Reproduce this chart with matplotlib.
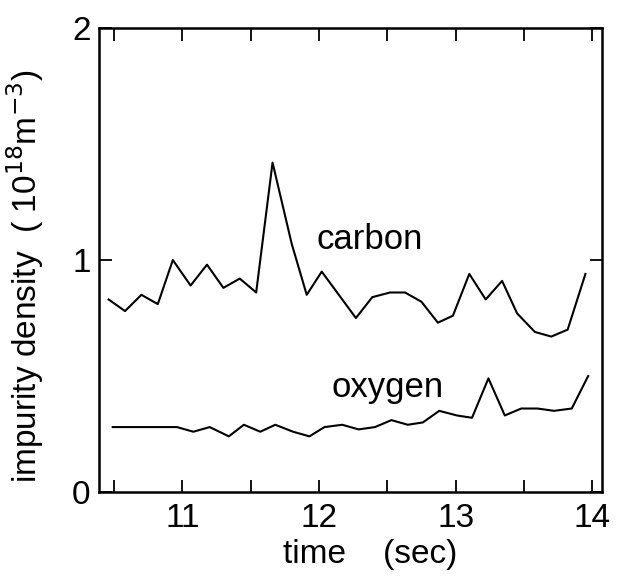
import matplotlib
matplotlib.use("Agg")
from matplotlib import pyplot as plt
from matplotlib.ticker import MultipleLocator
import numpy as np

plt.rcParams['font.family'] = ['Liberation Sans', 'DejaVu Sans']

# carbon (10^18 m^-3)
carbon_t = [10.46, 10.58, 10.70, 10.82, 10.93, 11.06, 11.18, 11.30, 11.42, 11.54,
            11.66, 11.80, 11.91, 12.02, 12.27, 12.39, 12.52, 12.63, 12.75, 12.87,
            12.98, 13.10, 13.22, 13.34, 13.45, 13.58, 13.70, 13.82, 13.95]
carbon_n = [0.83, 0.78, 0.85, 0.81, 1.00, 0.89, 0.98, 0.88, 0.92, 0.86,
            1.42, 1.07, 0.85, 0.95, 0.75, 0.84, 0.86, 0.86, 0.82, 0.73,
            0.76, 0.94, 0.83, 0.91, 0.77, 0.69, 0.67, 0.70, 0.94]

# oxygen
oxygen_t = [10.49, 10.60, 10.72, 10.84, 10.96, 11.08, 11.20, 11.34, 11.45, 11.57,
            11.68, 11.81, 11.93, 12.04, 12.17, 12.29, 12.41, 12.53, 12.65, 12.76,
            12.88, 13.01, 13.12, 13.24, 13.36, 13.48, 13.60, 13.72, 13.85, 13.97]
oxygen_n = [0.28, 0.28, 0.28, 0.28, 0.28, 0.26, 0.28, 0.24, 0.29, 0.26,
            0.29, 0.26, 0.24, 0.28, 0.29, 0.27, 0.28, 0.31, 0.29, 0.30,
            0.35, 0.33, 0.32, 0.49, 0.33, 0.36, 0.36, 0.35, 0.36, 0.50]

fig = plt.figure(figsize=(6.23, 5.83), dpi=100)
ax = fig.add_axes([0.159, 0.156, 0.807, 0.796])

ax.plot(carbon_t, carbon_n, color='black', lw=1.5)
ax.plot(oxygen_t, oxygen_n, color='black', lw=1.5)

ax.text(12.37, 1.09, 'carbon', fontsize=25, ha='center', va='center')
ax.text(12.50, 0.45, 'oxygen', fontsize=25, ha='center', va='center')

ax.set_xlim(10.39, 14.07)
ax.set_ylim(0, 2)
ax.xaxis.set_major_locator(MultipleLocator(1))
ax.xaxis.set_minor_locator(MultipleLocator(0.5))
ax.yaxis.set_major_locator(MultipleLocator(1))
ax.tick_params(which='both', direction='in', top=True, right=True,
               labelsize=24, width=1.3, length=9)
ax.tick_params(axis='x', pad=8)
ax.tick_params(axis='y', pad=6)
for s in ax.spines.values():
    s.set_linewidth(1.8)

ax.set_xlabel('time    (sec)', fontsize=24)
ax.xaxis.set_label_coords(0.54, -0.102)
ax.set_ylabel('impurity density  ( 10$^{18}$m$^{-3}$)', fontsize=24)
ax.yaxis.set_label_coords(-0.105, 0.465)

fig.savefig('out.png', dpi=100)
